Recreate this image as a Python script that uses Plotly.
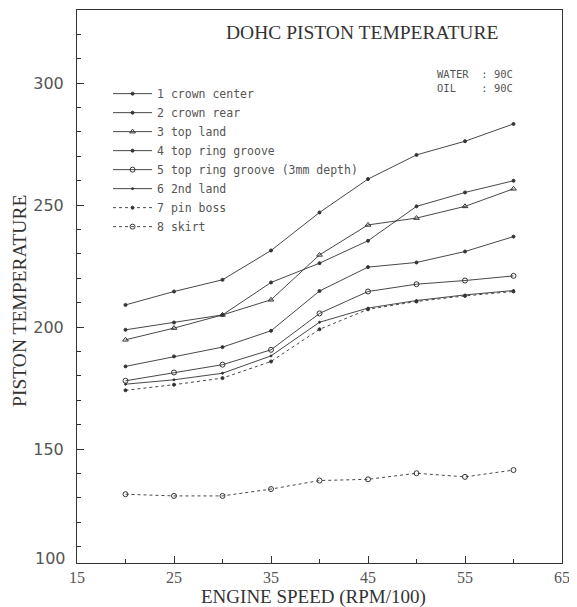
import plotly.graph_objects as go

# Engine speed (RPM/100)
engine_speed = [20, 25, 30, 35, 40, 45, 50, 55, 60]

# Piston temperatures
crown_center = [209.1, 214.6, 219.4, 231.4, 247.0, 260.7, 270.6, 276.2, 283.3]
crown_rear = [198.9, 201.9, 205.0, 218.3, 226.2, 235.4, 249.5, 255.2, 260.0]
top_land = [194.8, 199.6, 205.0, 211.2, 229.6, 241.9, 244.7, 249.5, 256.7]
top_ring_groove = [183.9, 188.0, 191.8, 198.5, 214.8, 224.6, 226.5, 231.0, 237.1]
top_ring_groove_3mm = [178.0, 181.4, 184.6, 190.7, 205.6, 214.6, 217.6, 219.1, 221.0]
second_land = [176.6, 178.4, 181.1, 188.2, 202.0, 207.8, 210.9, 213.2, 215.0]
pin_boss = [174.1, 176.4, 179.1, 185.9, 199.1, 207.3, 210.5, 212.8, 214.6]
skirt = [131.5, 130.8, 130.8, 133.6, 137.1, 137.6, 140.1, 138.6, 141.4]

series_names = [
    "1 crown center",
    "2 crown rear",
    "3 top land",
    "4 top ring groove",
    "5 top ring groove (3mm depth)",
    "6 2nd land",
    "7 pin boss",
    "8 skirt",
]
series_values = [crown_center, crown_rear, top_land, top_ring_groove,
                 top_ring_groove_3mm, second_land, pin_boss, skirt]

x_tick_vals = [15, 25, 35, 45, 55, 65]
y_tick_vals = [150, 200, 250, 300]

INK = "#333333"
TEXT = "#555555"
styles = [
    dict(symbol="circle", size=3, dash="solid"),
    dict(symbol="circle", size=3, dash="solid"),
    dict(symbol="triangle-up-open", size=5, dash="solid"),
    dict(symbol="circle", size=3, dash="solid"),
    dict(symbol="circle-open", size=5, dash="solid"),
    dict(symbol="circle", size=2, dash="solid"),
    dict(symbol="circle", size=3, dash="dot"),
    dict(symbol="circle-open", size=5, dash="dot"),
]

fig = go.Figure()
for name, vals, st in zip(series_names, series_values, styles):
    fig.add_trace(go.Scatter(
        x=engine_speed, y=vals, name=name, mode="lines+markers",
        line=dict(color=INK, width=0.9, dash=st["dash"]),
        marker=dict(symbol=st["symbol"], size=st["size"], color=INK,
                    line=dict(color=INK, width=1)),
    ))

SERIF = "Liberation Serif"
MONO = "DejaVu Sans Mono"

# The page body adds an 8px offset, so the figure is sized to compensate.
fig.update_layout(
    width=569, height=599,
    margin=dict(l=69, r=15, t=2, b=44),
    paper_bgcolor="white", plot_bgcolor="white",
    showlegend=True,
    legend=dict(x=0.064, y=0.875, xanchor="left", yanchor="top",
                bgcolor="rgba(0,0,0,0)",
                font=dict(family=MONO, size=11.5, color=TEXT),
                itemwidth=39, tracegroupgap=0),
    xaxis=dict(
        range=[15, 65], tickvals=x_tick_vals, ticks="inside", ticklen=7,
        tickcolor=INK, showline=True, linecolor=INK, linewidth=1, mirror=True,
        showgrid=False, zeroline=False,
        minor=dict(dtick=5, ticks="inside", ticklen=4, tickcolor=INK),
        tickfont=dict(family=SERIF, size=16, color=TEXT),
    ),
    yaxis=dict(
        range=[103.3, 330], tickvals=y_tick_vals, ticks="inside", ticklen=7,
        tickcolor=INK, showline=True, linecolor=INK, linewidth=1, mirror=True,
        showgrid=False, zeroline=False, ticklabelstandoff=9,
        minor=dict(dtick=10, ticks="inside", ticklen=4, tickcolor=INK),
        tickfont=dict(family="DejaVu Sans", size=16, color=TEXT),
    ),
    annotations=[
        dict(text="DOHC PISTON TEMPERATURE", xref="paper", yref="paper",
             x=0.588, y=0.96, xanchor="center", yanchor="middle", showarrow=False,
             font=dict(family=SERIF, size=19.5, color="#333")),
        dict(text="WATER&nbsp;&nbsp;: 90C<br>OIL&nbsp;&nbsp;&nbsp;&nbsp;: 90C",
             xref="paper", yref="paper", x=0.738, y=0.872, xanchor="left",
             yanchor="middle", showarrow=False, align="left",
             font=dict(family=MONO, size=10.5, color=TEXT)),
        dict(text="100", xref="paper", yref="paper", x=0, y=0, xanchor="right",
             yanchor="middle", xshift=-9, yshift=5, showarrow=False,
             font=dict(family="DejaVu Sans", size=16, color=TEXT)),
        dict(text="ENGINE SPEED (RPM/100)", xref="paper", yref="paper",
             x=0.487, y=0, xanchor="center", yanchor="middle", yshift=-34,
             showarrow=False, font=dict(family=SERIF, size=19, color="#333")),
        dict(text="PISTON TEMPERATURE", xref="paper", yref="paper",
             x=0, y=0.474, xanchor="center", yanchor="middle", xshift=-57,
             textangle=-90, showarrow=False,
             font=dict(family=SERIF, size=19.5, color="#333")),
    ],
)

fig.write_html("out.html")
